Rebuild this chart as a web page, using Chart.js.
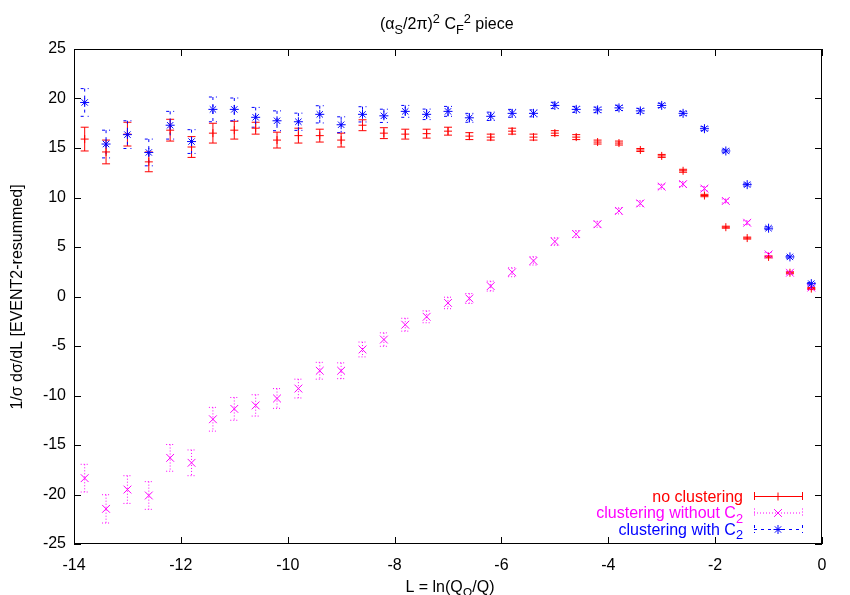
<!DOCTYPE html>
<html>
<head>
<meta charset="utf-8">
<script src="https://cdn.jsdelivr.net/npm/chart.js@4/dist/chart.umd.min.js"></script>
<style>
  html, body { margin: 0; padding: 0; background: #fff; }
  canvas { display: block; }
</style>
</head>
<body>
<canvas id="chart" width="850" height="595"></canvas>
<script>
// L values (bin centres)
const xValues = [-13.8, -13.4, -13.0, -12.6, -12.2, -11.8, -11.4, -11.0, -10.6, -10.2,
                 -9.8, -9.4, -9.0, -8.6, -8.2, -7.8, -7.4, -7.0, -6.6, -6.2,
                 -5.8, -5.4, -5.0, -4.6, -4.2, -3.8, -3.4, -3.0, -2.6, -2.2,
                 -1.8, -1.4, -1.0, -0.6, -0.2];

// no clustering
const noClust = [15.9, 14.6, 16.4, 13.6, 16.8, 15.1, 16.5, 16.8, 17.0, 15.8,
                 16.25, 16.25, 15.8, 17.3, 16.5, 16.4, 16.45, 16.7, 16.2, 16.1,
                 16.7, 16.1, 16.5, 16.1, 15.6, 15.5, 14.8, 14.2, 12.7, 10.2,
                 7.0, 5.9, 4.0, 2.4, 0.8];
const noClustErr = [1.2, 1.2, 1.2, 1.0, 1.1, 1.05, 1.0, 0.9, 0.6, 0.8,
                    0.75, 0.65, 0.7, 0.55, 0.55, 0.5, 0.45, 0.4, 0.35, 0.3,
                    0.3, 0.3, 0.25, 0.25, 0.2, 0.2, 0.15, 0.15, 0.15, 0.12,
                    0.1, 0.1, 0.1, 0.1, 0.1];

// clustering without C2
const clustNoC2 = [-18.35, -21.45, -19.5, -20.1, -16.3, -16.8, -12.4, -11.35, -11.0, -10.3,
                   -9.3, -7.5, -7.5, -5.35, -4.35, -2.85, -2.05, -0.65, -0.2, 1.05,
                   2.45, 3.6, 5.55, 6.3, 7.3, 8.65, 9.4, 11.1, 11.35, 10.9,
                   9.65, 7.45, 4.25, 2.4, 0.9];
const clustNoC2Err = [1.4, 1.43, 1.4, 1.4, 1.35, 1.3, 1.2, 1.15, 1.08, 1.0,
                      0.95, 0.85, 0.8, 0.75, 0.68, 0.65, 0.6, 0.58, 0.5, 0.5,
                      0.45, 0.42, 0.38, 0.35, 0.3, 0.3, 0.28, 0.25, 0.25, 0.22,
                      0.2, 0.2, 0.18, 0.15, 0.15];

// clustering with C2
const clustC2 = [19.6, 15.4, 16.35, 14.55, 17.3, 15.65, 18.9, 18.9, 18.1, 17.75,
                 17.65, 18.4, 17.35, 18.4, 18.25, 18.7, 18.4, 18.7, 18.05, 18.2,
                 18.5, 18.5, 19.3, 18.9, 18.85, 19.05, 18.75, 19.3, 18.5, 16.95,
                 14.7, 11.3, 6.9, 4.0, 1.3];
const clustC2Err = [1.4, 1.4, 1.4, 1.35, 1.4, 1.2, 1.25, 1.15, 1.0, 1.0,
                    0.87, 0.87, 0.8, 0.77, 0.67, 0.6, 0.53, 0.5, 0.45, 0.42,
                    0.4, 0.35, 0.32, 0.3, 0.28, 0.27, 0.25, 0.22, 0.2, 0.2,
                    0.18, 0.15, 0.15, 0.12, 0.12];

const xTicks = [-14, -12, -10, -8, -6, -4, -2, 0];
const yTicks = [-25, -20, -15, -10, -5, 0, 5, 10, 15, 20, 25];

const FONT = '"Liberation Sans", Arial, Helvetica, sans-serif';

function pts(ys) {
    return xValues.map((x, i) => ({ x: x, y: ys[i] }));
}

// text with sub/superscripts: parts = [[text, 'sub'|'sup'|undefined], ...]
function richWidth(ctx, parts, size) {
    let w = 0;
    parts.forEach(p => {
        ctx.font = (p[1] ? size * 0.8 : size) + 'px ' + FONT;
        w += ctx.measureText(p[0]).width;
    });
    return w;
}

function drawRich(ctx, parts, x, y, size) {
    parts.forEach(p => {
        const small = !!p[1];
        ctx.font = (small ? size * 0.8 : size) + 'px ' + FONT;
        let dy = 0;
        if (p[1] === 'sub') dy = size * 0.3;
        if (p[1] === 'sup') dy = -size * 0.4;
        ctx.fillText(p[0], x, y + dy);
        x += ctx.measureText(p[0]).width;
    });
}

// vertical error bars with small caps
const errorBars = {
    id: 'errorBars',
    beforeDatasetsDraw(chart) {
        const ctx = chart.ctx;
        const ys = chart.scales.y, xs = chart.scales.x;
        chart.data.datasets.forEach(ds => {
            ctx.save();
            ctx.strokeStyle = ds.borderColor;
            ctx.lineWidth = 1;
            ctx.setLineDash(ds.errDash);
            ds.data.forEach((p, j) => {
                const e = ds.errors[j];
                const px = xs.getPixelForValue(p.x);
                const top = ys.getPixelForValue(p.y + e);
                const bot = ys.getPixelForValue(p.y - e);
                ctx.beginPath();
                ctx.moveTo(px, top); ctx.lineTo(px, bot);
                ctx.moveTo(px - 4, top); ctx.lineTo(px + 4, top);
                ctx.moveTo(px - 4, bot); ctx.lineTo(px + 4, bot);
                ctx.stroke();
            });
            ctx.restore();
        });
    }
};

// frame, inward ticks, titles and key
const decorations = {
    id: 'decorations',
    afterDraw(chart) {
        const ctx = chart.ctx;
        const a = chart.chartArea;
        const xs = chart.scales.x, ys = chart.scales.y;
        ctx.save();
        ctx.strokeStyle = '#000';
        ctx.lineWidth = 1;
        ctx.strokeRect(a.left + 0.5, a.top + 0.5, a.right - a.left - 1, a.bottom - a.top - 1);
        ctx.beginPath();
        const tl = 7;
        yTicks.forEach(v => {
            const py = Math.round(ys.getPixelForValue(v)) + 0.5;
            ctx.moveTo(a.left, py); ctx.lineTo(a.left + tl, py);
            ctx.moveTo(a.right, py); ctx.lineTo(a.right - tl, py);
        });
        xTicks.forEach(v => {
            const px = Math.round(xs.getPixelForValue(v)) + 0.5;
            ctx.moveTo(px, a.bottom); ctx.lineTo(px, a.bottom - tl);
            ctx.moveTo(px, a.top); ctx.lineTo(px, a.top + tl);
        });
        ctx.stroke();

        ctx.fillStyle = '#000';
        ctx.textBaseline = 'alphabetic';
        ctx.textAlign = 'left';
        // title
        drawRich(ctx, [['(α'], ['S', 'sub'], ['/2π)'], ['2', 'sup'], [' C'], ['F', 'sub'], ['2', 'sup'], [' piece']], 380, 29, 16);
        // x axis title
        const xt = [['L = ln(Q'], ['Ω', 'sub'], ['/Q)']];
        drawRich(ctx, xt, 450 - richWidth(ctx, xt, 16) / 2, 592, 16);
        // y axis title
        ctx.save();
        ctx.translate(18, 297);
        ctx.rotate(-Math.PI / 2);
        ctx.textAlign = 'center';
        ctx.textBaseline = 'middle';
        ctx.font = '16px ' + FONT;
        ctx.fillText('1/σ dσ/dL [EVENT2-resummed]', 0, 0);
        ctx.restore();

        // key
        const rows = [
            { parts: [['no clustering']], ds: chart.data.datasets[0] },
            { parts: [['clustering without C'], ['2', 'sub']], ds: chart.data.datasets[1] },
            { parts: [['clustering with C'], ['2', 'sub']], ds: chart.data.datasets[2] }
        ];
        rows.forEach((r, i) => {
            const y = 496 + i * 16.5;
            ctx.fillStyle = r.ds.borderColor;
            const w = richWidth(ctx, r.parts, 16);
            drawRich(ctx, r.parts, 743 - w, y + 5.5, 16);
            ctx.save();
            ctx.strokeStyle = r.ds.borderColor;
            ctx.lineWidth = 1;
            ctx.setLineDash(r.ds.errDash);
            ctx.beginPath();
            ctx.moveTo(754, y + 0.5); ctx.lineTo(802, y + 0.5);
            ctx.moveTo(754.5, y - 4); ctx.lineTo(754.5, y + 4);
            ctx.moveTo(802.5, y - 4); ctx.lineTo(802.5, y + 4);
            ctx.stroke();
            ctx.setLineDash([]);
            Chart.helpers.drawPoint(ctx, {
                pointStyle: r.ds.pointStyle, radius: r.ds.pointRadius, rotation: 0, borderWidth: 1
            }, 778, y + 0.5);
            ctx.restore();
        });
        ctx.restore();
    }
};

new Chart(document.getElementById('chart'), {
    type: 'scatter',
    data: {
        datasets: [
            {
                label: 'no clustering',
                data: pts(noClust),
                errors: noClustErr,
                errDash: [],
                borderColor: '#ff0000',
                backgroundColor: '#ff0000',
                pointStyle: 'cross',
                pointRadius: 4,
                pointBorderWidth: 1,
                order: 3
            },
            {
                label: 'clustering without C2',
                data: pts(clustNoC2),
                errors: clustNoC2Err,
                errDash: [1, 2],
                borderColor: '#ff00ff',
                backgroundColor: '#ff00ff',
                pointStyle: 'crossRot',
                pointRadius: 5.5,
                pointBorderWidth: 1,
                order: 2
            },
            {
                label: 'clustering with C2',
                data: pts(clustC2),
                errors: clustC2Err,
                errDash: [3, 4],
                borderColor: '#0000ff',
                backgroundColor: '#0000ff',
                pointStyle: 'star',
                pointRadius: 4.5,
                pointBorderWidth: 1,
                order: 1
            }
        ]
    },
    options: {
        responsive: false,
        animation: false,
        devicePixelRatio: 1,
        layout: { padding: { top: 49, right: 28, left: 0, bottom: 0 } },
        plugins: {
            legend: { display: false },
            tooltip: { enabled: false }
        },
        scales: {
            x: {
                type: 'linear',
                min: -14,
                max: 0,
                afterBuildTicks(s) { s.ticks = xTicks.map(v => ({ value: v })); },
                ticks: { color: '#000', font: { family: FONT, size: 16 }, padding: 12, maxRotation: 0 },
                grid: { display: false, drawTicks: false },
                border: { display: false },
                afterFit(s) { s.height = 51; s.paddingLeft = 0; s.paddingRight = 0; }
            },
            y: {
                type: 'linear',
                min: -25,
                max: 25,
                afterBuildTicks(s) { s.ticks = yTicks.map(v => ({ value: v })); },
                ticks: { color: '#000', font: { family: FONT, size: 16 }, padding: 8 },
                grid: { display: false, drawTicks: false },
                border: { display: false },
                afterFit(s) { s.width = 74; s.paddingTop = 0; s.paddingBottom = 0; }
            }
        }
    },
    plugins: [errorBars, decorations]
});
</script>
</body>
</html>
